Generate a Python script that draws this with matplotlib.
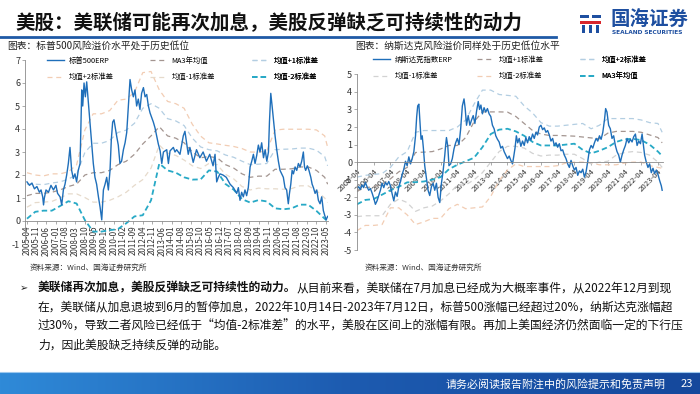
import numpy as np
import matplotlib.pyplot as plt
from matplotlib.lines import Line2D
from matplotlib.patches import Rectangle
from matplotlib.colors import LinearSegmentedColormap

plt.rcParams['font.family'] = ['Noto Sans CJK SC', 'DejaVu Sans']
plt.rcParams['axes.unicode_minus'] = False

# ---------------- 数据：标普500 ERP ----------------
sp_t = [2005.25, 2005.4, 2005.55, 2005.7, 2005.85, 2006.0, 2006.1, 2006.2, 2006.25, 2006.3,
        2006.4, 2006.55, 2006.7, 2006.85, 2007.0, 2007.1, 2007.25, 2007.35, 2007.45, 2007.55,
        2007.65, 2007.75, 2007.85, 2007.95, 2008.05, 2008.15, 2008.25, 2008.35, 2008.46, 2008.56,
        2008.62, 2008.7, 2008.78, 2008.86, 2008.96, 2009.06, 2009.16, 2009.26, 2009.36, 2009.46,
        2009.57, 2009.67, 2009.77, 2009.87, 2009.97, 2010.07, 2010.17, 2010.27, 2010.35, 2010.43,
        2010.51, 2010.59, 2010.67, 2010.77, 2010.87, 2010.97, 2011.08, 2011.18, 2011.28, 2011.38,
        2011.48, 2011.58, 2011.68, 2011.78, 2011.88, 2011.98, 2012.08, 2012.18, 2012.29, 2012.39,
        2012.49, 2012.59, 2012.69, 2012.79, 2012.89, 2012.99, 2013.09, 2013.19, 2013.3, 2013.4,
        2013.5, 2013.7, 2013.8, 2013.9, 2014.1, 2014.2, 2014.3, 2014.5, 2014.7, 2014.8,
        2014.9, 2015.0, 2015.1, 2015.3, 2015.5, 2015.7, 2015.9, 2016.1, 2016.3, 2016.5,
        2016.62, 2016.72, 2016.82, 2016.92, 2017.1, 2017.3, 2017.53, 2017.73, 2017.93, 2018.03,
        2018.13, 2018.23, 2018.33, 2018.43, 2018.53, 2018.63, 2018.74, 2018.84, 2018.94, 2019.04,
        2019.14, 2019.24, 2019.34, 2019.44, 2019.55, 2019.65, 2019.75, 2019.85, 2019.91, 2019.99,
        2020.07, 2020.15, 2020.25, 2020.35, 2020.45, 2020.55, 2020.65, 2020.75, 2020.85, 2020.95,
        2021.05, 2021.12, 2021.2, 2021.28, 2021.36, 2021.46, 2021.56, 2021.66, 2021.76, 2021.86,
        2021.96, 2022.03, 2022.1, 2022.2, 2022.3, 2022.41, 2022.49, 2022.57, 2022.67, 2022.77,
        2022.87, 2022.97, 2023.07, 2023.17, 2023.27, 2023.33, 2023.43]
sp_erp = [1.70, 1.55, 1.65, 1.40, 1.50, 1.25, 1.35, 1.05, 0.70, 1.00,
          1.35, 1.25, 1.55, 1.35, 1.55, 1.20, 1.05, 0.70, 1.35, 1.60,
          2.00, 2.50, 3.20, 2.20, 1.85, 2.05, 1.70, 2.20, 2.50, 5.70,
          5.00, 6.00, 5.40, 6.05, 5.15, 4.30, 3.40, 2.50, 1.90, 1.60,
          1.05, 0.60, 0.05, 1.35, 1.60, 1.90, 1.35, 2.20, 3.55, 4.30,
          4.40, 4.05, 3.70, 3.30, 2.50, 2.60, 3.10, 3.40, 3.85, 5.00,
          6.15, 5.70, 5.40, 5.70, 5.00, 5.30, 4.85, 5.55, 5.80, 5.40,
          5.50, 5.00, 4.70, 4.50, 4.30, 4.05, 3.70, 3.35, 3.05, 2.50,
          3.00, 3.10, 2.50, 3.05, 3.20, 3.00, 3.10, 2.90, 3.70, 3.90,
          3.40, 2.90, 3.20, 2.55, 3.10, 2.75, 3.00, 2.60, 2.90, 2.40,
          2.90, 1.70, 1.90, 2.05, 2.00, 1.90, 1.60, 1.45, 1.20, 1.45,
          0.90, 1.25, 1.05, 1.35, 1.10, 1.45, 2.35, 2.60, 2.90, 2.50,
          2.85, 3.30, 3.00, 3.40, 2.75, 3.10, 2.60, 3.00, 4.30, 5.55,
          5.00, 4.40, 3.70, 3.10, 2.60, 2.20, 2.05, 1.90, 1.45, 1.35,
          0.75, 1.20, 1.60, 2.20, 2.05, 2.35, 2.20, 2.50, 2.35, 2.60,
          3.00, 2.35, 2.20, 2.40, 2.20, 1.90, 1.60, 1.45, 1.20, 1.35,
          0.90, 0.75, 1.05, 0.45, 0.20, 0.05, 0.20]

sp_band_t = [2005.25, 2005.75, 2006.25, 2006.75, 2007.25, 2007.75, 2008.25, 2008.75, 2009.25, 2009.75,
             2010.25, 2010.75, 2011.25, 2011.75, 2012.25, 2012.75, 2013.25, 2013.75, 2014.25, 2014.75,
             2015.25, 2015.75, 2016.25, 2016.75, 2017.25, 2017.75, 2018.25, 2018.75, 2019.25, 2019.75,
             2020.25, 2020.75, 2021.25, 2021.75, 2022.25, 2022.75, 2023.25, 2023.43]
sp_ma3 = [1.10, 1.20, 1.20, 1.25, 1.35, 1.50, 1.60, 2.00, 2.10, 2.10, 2.20, 2.45, 2.60, 2.90, 3.35, 3.70,
          4.10, 3.70, 3.60, 3.40, 3.00, 2.75, 2.80, 2.75, 2.45, 2.30, 2.05, 1.90, 1.95, 1.95, 2.25, 2.25,
          2.27, 2.35, 2.35, 2.20, 1.90, 1.60]
sp_p1 = [1.60, 1.60, 1.58, 1.65, 1.70, 1.82, 2.02, 2.98, 3.38, 3.38, 3.50, 3.85, 3.95, 4.25, 4.90, 5.10,
         4.90, 4.45, 4.35, 4.15, 3.60, 3.22, 3.10, 3.05, 2.87, 2.77, 2.60, 2.45, 2.47, 2.50, 3.10, 3.12,
         3.13, 3.17, 3.17, 3.08, 2.80, 2.40]
sp_p2 = [2.10, 2.00, 1.96, 2.05, 2.05, 2.14, 2.44, 3.96, 4.66, 4.66, 4.80, 5.25, 5.30, 5.60, 6.45, 6.50,
         5.70, 5.20, 5.10, 4.90, 4.20, 3.69, 3.40, 3.35, 3.29, 3.24, 3.15, 3.00, 2.99, 3.05, 3.95, 3.99,
         3.99, 3.99, 3.99, 3.96, 3.70, 3.20]
sp_m1 = [0.60, 0.80, 0.82, 0.85, 1.00, 1.18, 1.18, 1.02, 0.82, 0.82, 0.90, 1.05, 1.25, 1.55, 1.80, 2.30,
         3.30, 2.95, 2.85, 2.65, 2.40, 2.28, 2.50, 2.45, 2.03, 1.83, 1.50, 1.35, 1.43, 1.40, 1.40, 1.38,
         1.41, 1.53, 1.53, 1.32, 1.00, 0.80]
sp_m2 = [0.10, 0.40, 0.45, 0.45, 0.65, 0.86, 0.76, 0.04, -0.46, -0.46, -0.40, -0.35, -0.10, 0.20, 0.25, 0.90,
         2.50, 2.20, 2.10, 1.90, 1.80, 1.81, 2.20, 2.15, 1.61, 1.36, 0.95, 0.80, 0.91, 0.85, 0.55, 0.51,
         0.55, 0.71, 0.71, 0.44, 0.10, 0.00]

sp_xlabels = ['2005-04', '2005-11', '2006-06', '2007-01', '2007-08', '2008-03', '2008-10', '2009-05',
              '2009-12', '2010-07', '2011-02', '2011-09', '2012-04', '2012-11', '2013-06', '2014-01',
              '2014-08', '2015-03', '2015-10', '2016-05', '2016-12', '2017-07', '2018-02', '2018-09',
              '2019-04', '2019-11', '2020-06', '2021-01', '2021-08', '2022-03', '2022-10', '2023-05']

# ---------------- 数据：纳斯达克 ERP ----------------
nq_t = [2005.25, 2005.35, 2005.45, 2005.55, 2005.65, 2005.75, 2005.85, 2005.95, 2006.05, 2006.15,
        2006.25, 2006.35, 2006.45, 2006.55, 2006.65, 2006.75, 2006.85, 2006.95, 2007.05, 2007.15,
        2007.25, 2007.35, 2007.45, 2007.55, 2007.65, 2007.75, 2007.85, 2007.95, 2008.05, 2008.15,
        2008.25, 2008.35, 2008.45, 2008.55, 2008.65, 2008.75, 2008.82, 2008.88, 2008.95, 2009.02,
        2009.08, 2009.15, 2009.22, 2009.3, 2009.4, 2009.5, 2009.6, 2009.7, 2009.8, 2009.9,
        2010.0, 2010.1, 2010.2, 2010.3, 2010.4, 2010.5, 2010.55, 2010.6, 2010.68, 2010.75,
        2010.85, 2010.95, 2011.05, 2011.15, 2011.25, 2011.35, 2011.45, 2011.55, 2011.65, 2011.72,
        2011.8, 2011.9, 2012.0, 2012.1, 2012.2, 2012.3, 2012.4, 2012.5, 2012.58, 2012.66,
        2012.75, 2012.85, 2012.95, 2013.05, 2013.15, 2013.25, 2013.35, 2013.45, 2013.55, 2013.65,
        2013.75, 2013.85, 2013.95, 2014.05, 2014.15, 2014.25, 2014.35, 2014.45, 2014.55, 2014.62,
        2014.7, 2014.78, 2014.86, 2014.95, 2015.05, 2015.15, 2015.25, 2015.35, 2015.45, 2015.55,
        2015.65, 2015.75, 2015.85, 2015.95, 2016.05, 2016.15, 2016.25, 2016.35, 2016.45, 2016.55,
        2016.65, 2016.75, 2016.85, 2016.95, 2017.05, 2017.15, 2017.25, 2017.35, 2017.45, 2017.55,
        2017.65, 2017.75, 2017.85, 2017.95, 2018.05, 2018.15, 2018.25, 2018.35, 2018.45, 2018.55,
        2018.65, 2018.75, 2018.85, 2018.95, 2019.05, 2019.15, 2019.25, 2019.35, 2019.45, 2019.55,
        2019.65, 2019.75, 2019.85, 2019.95, 2020.05, 2020.12, 2020.2, 2020.3, 2020.4, 2020.5,
        2020.6, 2020.7, 2020.8, 2020.9, 2021.0, 2021.1, 2021.2, 2021.3, 2021.4, 2021.5,
        2021.6, 2021.7, 2021.8, 2021.9, 2022.0, 2022.1, 2022.2, 2022.3, 2022.38, 2022.45,
        2022.55, 2022.65, 2022.75, 2022.85, 2022.95, 2023.05, 2023.15, 2023.25, 2023.35, 2023.45,
        2023.5]
nq_erp = [-1.50, -1.40, -1.55, -1.30, -1.45, -1.15, -1.40, -1.60, -1.50, -1.75,
          -2.05, -2.40, -2.20, -1.90, -1.60, -1.20, -1.45, -1.15, -1.30, -1.10,
          -1.35, -1.80, -2.20, -1.70, -1.95, -1.40, -1.10, -0.70, -0.40, 0.05,
          -0.20, 0.30, -0.10, 0.20, 0.60, 1.50, 2.60, 3.20, 3.30, 2.20,
          1.30, 1.50, 0.80, -0.20, -0.90, -1.60, -1.90, -1.40, -1.20, -1.60,
          -1.20, -2.00, -2.30, -1.20, -0.50, 0.40, 0.95, 1.40, 0.90, -0.20,
          -0.10, 0.20, 0.75, 1.10, 1.35, 1.00, 1.90, 3.20, 3.60, 3.05,
          2.10, 2.65, 2.10, 2.40, 2.65, 2.20, 2.90, 3.45, 3.00, 3.25,
          2.75, 3.10, 2.85, 3.05, 2.75, 2.60, 2.10, 1.90, 1.50, 1.30,
          1.15, 0.80, 0.90, 0.60, 0.40, 0.20, 0.35, 0.10, -0.10, 0.30,
          0.80, 1.50, 1.10, 1.35, 0.90, 1.20, 0.95, 1.40, 1.10, 1.45,
          1.25, 1.60, 1.35, 1.70, 1.55, 2.00, 2.10, 1.85, 1.95, 1.70,
          1.80, 1.55, 1.20, 1.35, 0.95, 1.10, 0.85, 1.05, 0.65, 0.70,
          0.40, 0.20, -0.10, -0.30, 0.10, -0.20, -0.45, -0.30, -0.75, -0.50,
          -0.60, -0.40, -0.85, -0.55, 0.05, 0.70, 0.95, 0.80, 1.10, 1.35,
          1.20, 1.50, 1.30, 1.70, 2.40, 3.05, 2.85, 2.10, 1.90, 1.35,
          1.50, 0.95, 0.60, 0.40, 0.00, 0.40, 0.70, 0.95, 1.35, 1.10,
          1.30, 1.15, 1.45, 1.60, 0.95, 1.20, 1.05, 1.60, 0.95, 0.40,
          0.00, -0.30, -0.10, -0.60, -0.35, -0.65, -0.45, -0.70, -1.05, -1.35,
          -1.60]

nq_band_t = [2005.25, 2005.75, 2006.25, 2006.75, 2007.25, 2007.75, 2008.25, 2008.75, 2009.25, 2009.75,
             2010.25, 2010.75, 2011.25, 2011.75, 2012.25, 2012.75, 2013.25, 2013.75, 2014.25, 2014.75,
             2015.25, 2015.75, 2016.25, 2016.75, 2017.25, 2017.75, 2018.25, 2018.75, 2019.25, 2019.75,
             2020.25, 2020.75, 2021.25, 2021.75, 2022.25, 2022.75, 2023.25, 2023.5]
nq_ma3 = [-2.40, -2.15, -2.10, -1.85, -1.60, -1.40, -1.15, -1.14, -1.10, -1.00, -0.85, -0.40, -0.15, 0.05,
          0.25, 0.85, 1.60, 1.85, 1.90, 1.75, 1.50, 1.15, 0.95, 0.95, 0.95, 1.00, 1.05, 0.70, 0.50, 0.65,
          0.85, 1.15, 1.30, 1.33, 1.25, 1.00, 0.60, 0.35]
nq_p1 = [-1.65, -1.45, -1.40, -1.25, -0.95, -0.55, -0.30, 0.55, 0.57, 0.60, 0.75, 0.95, 0.95, 1.40,
         2.30, 2.86, 2.86, 2.86, 2.85, 2.60, 2.20, 1.80, 1.60, 1.52, 1.52, 1.50, 1.48, 1.43, 1.38, 1.33,
         1.65, 1.75, 1.75, 1.75, 1.70, 1.55, 1.40, 1.10]
nq_p2 = [-0.85, -0.75, -0.70, -0.65, -0.30, 0.30, 0.60, 1.70, 1.80, 1.80, 1.80, 1.80, 2.00, 2.40,
         3.30, 4.10, 4.10, 3.85, 3.80, 3.75, 3.20, 2.80, 2.25, 2.05, 2.05, 2.10, 2.15, 2.20, 1.90, 2.10,
         2.48, 2.48, 2.48, 2.48, 2.40, 2.25, 2.20, 1.70]
nq_m1 = [-3.10, -3.05, -3.05, -3.05, -2.40, -2.10, -2.30, -2.80, -2.60, -2.50, -2.20, -1.80, -1.30, -1.30,
         -1.00, -0.60, 0.00, 0.60, 0.90, 0.90, 0.80, 0.50, 0.35, 0.40, 0.40, 0.45, 0.45, 0.20, -0.10, 0.00,
         0.05, 0.40, 0.55, 0.60, 0.55, 0.40, 0.00, -0.30]
nq_m2 = [-3.90, -3.60, -3.60, -3.55, -2.60, -2.60, -3.00, -3.55, -3.40, -3.20, -3.20, -2.65, -2.40, -2.65,
         -2.60, -2.55, -1.95, -1.05, -0.45, -0.10, -0.25, -0.25, -0.25, -0.25, -0.20, -0.05, 0.00, 0.00,
         -0.05, -0.15, -0.15, -0.15, -0.05, 0.00, 0.00, -0.20, -0.30, -0.35]

nq_xlabels = ['2005-04', '2006-04', '2007-04', '2008-04', '2009-04', '2010-04', '2011-04', '2012-04',
              '2013-04', '2014-04', '2015-04', '2016-04', '2017-04', '2018-04', '2019-04', '2020-04',
              '2021-04', '2022-04', '2023-04']

# ---------------- 样式 ----------------
BLUE = '#1f6fba'
TEAL = '#27a9c6'
GRAYBROWN = '#a39590'
LIGHTBLUE = '#b3cee2'
PEACH = '#f2cdb4'
BEIGE = '#e6dacb'
LIGHTGRAY = '#d2d2d2'
DASH = (0, (4, 3))
TDASH = (0, (3, 1.8))

W, H = 700, 394
fig = plt.figure(figsize=(7, 3.94), dpi=100)


def fx(px):
    return px / W


def fy(py):
    return 1 - py / H


# 标题
fig.text(fx(15), fy(23), '美股：美联储可能再次加息，美股反弹缺乏可持续性的动力',
         fontsize=14, fontweight='bold', va='center', color='#111111')
fig.add_artist(Line2D([0, fx(556)], [fy(37), fy(37)], color='#1f5aa6', lw=2))

# 公司标志
lax = fig.add_axes([fx(580), fy(33), fx(21), 20 / H])
lax.set_xlim(0, 10)
lax.set_ylim(0, 10)
lax.axis('off')
for (x0, y0, w, h, c) in [(0, 7.5, 4.5, 1.6, '#1e4fa0'), (5.5, 7.5, 4.5, 1.6, '#1e4fa0'),
                          (0, 4.6, 10, 1.6, '#d9262c'), (0.8, 0, 1.8, 4.2, '#1e4fa0'),
                          (4.1, 0, 1.8, 4.2, '#1e4fa0'), (7.4, 0, 1.8, 4.2, '#1e4fa0')]:
    lax.add_patch(Rectangle((x0, y0), w, h, color=c, lw=0))
fig.text(fx(610), fy(20), '国海证券', fontsize=14, fontweight='bold', color='#1e4fa0', va='center')
fig.text(fx(612), fy(32), 'SEALAND SECURITIES', fontsize=4.2, fontweight='bold',
         color='#1e4fa0', va='center', family='DejaVu Sans')

# 图表标题
fig.text(fx(7), fy(46), '图表：标普500风险溢价水平处于历史低位', fontsize=7, va='center', color='#222222')
fig.text(fx(355), fy(46), '图表：纳斯达克风险溢价同样处于历史低位水平', fontsize=7, va='center', color='#222222')


def style_axis(ax):
    # 先移动底轴再设置刻度标签（移动轴线会重建刻度）
    for s in ['top', 'right']:
        ax.spines[s].set_visible(False)
    ax.spines['left'].set_color('#8a8a8a')
    ax.spines['left'].set_linewidth(0.6)
    ax.spines['bottom'].set_position(('data', 0))
    ax.spines['bottom'].set_color('#8a8a8a')
    ax.spines['bottom'].set_linewidth(0.6)
    ax.tick_params(axis='both', length=2, width=0.5, color='#8a8a8a', pad=1.5)
    ax.tick_params(axis='y', labelsize=6.5, labelcolor='#333333')
    ax.tick_params(axis='x', labelsize=5.8, labelcolor='#333333')
    ax.patch.set_alpha(0)


def column_legend(ax, handles, labels, x_px, y_px):
    leg = ax.legend(handles, labels, loc='upper left', bbox_to_anchor=(fx(x_px), fy(y_px)),
                    bbox_transform=fig.transFigure, frameon=False, fontsize=5.3,
                    handlelength=2.3, handletextpad=0.6, labelspacing=1.15,
                    borderpad=0, borderaxespad=0)
    ax.add_artist(leg)


# ---------------- 左图：标普500 ----------------
ax1 = fig.add_axes([fx(25), fy(244), fx(328) - fx(25), 184 / H])
style_axis(ax1)
l_p2, = ax1.plot(sp_band_t, sp_p2, color=PEACH, lw=0.9, ls=DASH)
l_p1, = ax1.plot(sp_band_t, sp_p1, color=LIGHTBLUE, lw=0.9, ls=DASH)
l_m1, = ax1.plot(sp_band_t, sp_m1, color=BEIGE, lw=0.9, ls=DASH)
l_ma, = ax1.plot(sp_band_t, sp_ma3, color=GRAYBROWN, lw=0.9, ls=DASH)
l_m2, = ax1.plot(sp_band_t, sp_m2, color=TEAL, lw=1.3, ls=TDASH)
l_erp, = ax1.plot(sp_t, sp_erp, color=BLUE, lw=1.0)
ax1.set_xlim(2005.13, 2023.45)
ax1.set_ylim(-1, 7)
ax1.set_yticks(range(-1, 8))
ax1.set_xticks([2005.25 + k * 7 / 12 for k in range(len(sp_xlabels))])
ax1.set_xticklabels(sp_xlabels, rotation=90, fontsize=5.8)
column_legend(ax1, [l_erp, l_p2], ['标普500ERP', '均值+2标准差'], 47, 57)
column_legend(ax1, [l_ma, l_m1], ['MA3年均值', '均值-1标准差'], 150, 57)
column_legend(ax1, [l_p1, l_m2], ['均值+1标准差', '均值-2标准差'], 252, 57)

# ---------------- 右图：纳斯达克 ----------------
ax2 = fig.add_axes([fx(357), fy(250), fx(663) - fx(357), 175.7 / H])
style_axis(ax2)
r_m2, = ax2.plot(nq_band_t, nq_m2, color=PEACH, lw=0.9, ls=DASH)
r_m1, = ax2.plot(nq_band_t, nq_m1, color=LIGHTGRAY, lw=0.9, ls=DASH)
r_p2, = ax2.plot(nq_band_t, nq_p2, color=LIGHTBLUE, lw=0.9, ls=DASH)
r_p1, = ax2.plot(nq_band_t, nq_p1, color=GRAYBROWN, lw=0.9, ls=DASH)
r_ma, = ax2.plot(nq_band_t, nq_ma3, color=TEAL, lw=1.3, ls=TDASH)
r_erp, = ax2.plot(nq_t, nq_erp, color=BLUE, lw=1.0)
ax2.set_xlim(2005.25, 2023.55)
ax2.set_ylim(-5, 5)
ax2.set_yticks(range(-5, 6))
ax2.set_xticks([2005.25 + k for k in range(len(nq_xlabels))])
ax2.set_xticklabels(nq_xlabels, rotation=45, ha='right', va='top', rotation_mode='anchor', fontsize=5.6)
column_legend(ax2, [r_erp, r_m1], ['纳斯达克指数ERP', '均值-1标准差'], 373, 56)
column_legend(ax2, [r_p1, r_m2], ['均值+1标准差', '均值-2标准差'], 477, 56)
column_legend(ax2, [r_p2, r_ma], ['均值+2标准差', 'MA3年均值'], 580, 56)

# 资料来源
fig.text(fx(30), fy(268), '资料来源：Wind、国海证券研究所', fontsize=5.5, va='center', color='#333333')
fig.text(fx(365), fy(268), '资料来源：Wind、国海证券研究所', fontsize=5.5, va='center', color='#333333')

# 正文
BODY = 8.5
fig.text(fx(20), fy(288), '➢', fontsize=7, va='center', family='DejaVu Sans', color='#222222')
t_bold = fig.text(fx(38), fy(288), '美联储再次加息，美股反弹缺乏可持续性的动力。',
                  fontsize=BODY, fontweight='bold', va='center', color='#111111')
fig.canvas.draw()
bb = t_bold.get_window_extent(fig.canvas.get_renderer())
fig.text(bb.x1 / fig.bbox.width, fy(288), '从目前来看，美联储在7月加息已经成为大概率事件，从2022年12月到现',
         fontsize=BODY, va='center', color='#111111')
body_lines = ['在，美联储从加息退坡到6月的暂停加息，2022年10月14日-2023年7月12日，标普500涨幅已经超过20%，纳斯达克涨幅超',
              '过30%，导致二者风险已经低于“均值-2标准差”的水平，美股在区间上的涨幅有限。再加上美国经济仍然面临一定的下行压',
              '力，因此美股缺乏持续反弹的动能。']
for i, line in enumerate(body_lines):
    fig.text(fx(38), fy(307 + 19 * i), line, fontsize=BODY, va='center', color='#111111')

# 页脚
fax = fig.add_axes([0, 0, 1, 22 / H])
grad = np.linspace(0, 1, 256).reshape(1, -1)
fax.imshow(grad, aspect='auto', extent=[0, 1, 0, 1],
           cmap=LinearSegmentedColormap.from_list('foot', ['#2f8ad8', '#1d5bb0', '#15489c']))
fax.axis('off')
fig.add_artist(Line2D([0, 1], [22 / H, 22 / H], color='#9cc8ee', lw=0.8))
fig.text(fx(446), fy(384), '请务必阅读报告附注中的风险提示和免责声明', fontsize=7.9, color='white', va='center')
fig.text(fx(681), fy(384), '23', fontsize=8, color='white', va='center')

fig.savefig('out.png', dpi=100)
